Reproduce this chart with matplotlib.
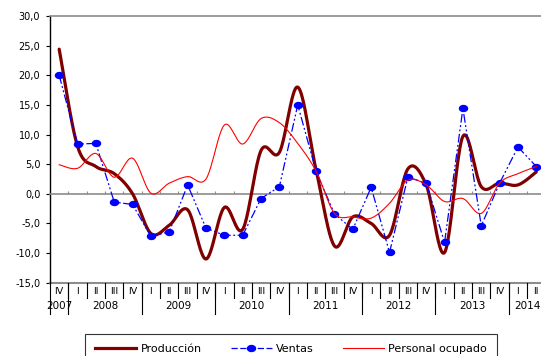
import numpy as np
import matplotlib
matplotlib.use("Agg")
import matplotlib.pyplot as plt
from matplotlib.path import Path

plt.rcParams['font.family'] = ['DejaVu Sans']

# Quarterly year-on-year changes, IV-2007 .. II-2014
quarters = ['IV'] + ['I', 'II', 'III', 'IV'] * 6 + ['I', 'II']
years = ['2007', '2008', '2009', '2010', '2011', '2012', '2013', '2014']
year_spans = [1, 4, 4, 4, 4, 4, 4, 2]

produccion = [24.4, 8.0, 4.6, 3.4, 0.0, -6.7, -5.3, -2.7, -11.0, -2.3, -6.0, 7.3, 7.0,
              18.0, 4.0, -8.8, -3.9, -5.0, -7.0, 4.2, 1.5, -9.9, 9.7, 1.2, 1.8, 1.5, 3.7]
ventas = [20.0, 8.4, 8.5, -1.4, -1.8, -7.2, -6.4, 1.5, -5.8, -7.0, -7.0, -0.8, 1.2,
          15.0, 3.8, -3.4, -6.0, 1.1, -9.9, 2.8, 1.8, -8.2, 14.4, -5.4, 1.8, 7.9, 4.6]
personal = [4.9, 4.3, 6.8, 2.8, 6.0, 0.1, 1.8, 2.9, 2.5, 11.6, 8.4, 12.7, 12.0,
            8.5, 3.8, -3.3, -3.9, -4.1, -1.6, 2.3, 1.5, -1.3, -0.8, -3.3, 1.8, 3.4, 4.6]


def smooth(x, y, n=24):
    """Bezier smoothing through every point (Catmull-Rom style control points)."""
    pts = np.column_stack([x, y]).astype(float)
    ext = np.vstack([pts[0], pts, pts[-1]])
    t = np.linspace(0, 1, n)[:, None]
    out = []
    for i in range(len(pts) - 1):
        p0, p1, p2, p3 = ext[i], ext[i + 1], ext[i + 2], ext[i + 3]
        c1 = p1 + (p2 - p0) / 6
        c2 = p2 - (p3 - p1) / 6
        seg = (1 - t) ** 3 * p1 + 3 * (1 - t) ** 2 * t * c1 + 3 * (1 - t) * t ** 2 * c2 + t ** 3 * p2
        out.append(seg if i == 0 else seg[1:])
    s = np.vstack(out)
    return s[:, 0], s[:, 1]


# slightly flattened dot marker
ang = np.linspace(0, 2 * np.pi, 40)
oval = Path(np.column_stack([1.35 * np.cos(ang), np.sin(ang)]), closed=True)

x = np.arange(len(quarters)) + 0.5

fig = plt.figure(figsize=(5.41, 3.56), dpi=100)
ax = fig.add_axes([50 / 541, 1 - 282.7 / 356, 495.5 / 541, 266.7 / 356])

gray = '#8c8c8c'
maroon = '#800000'
blue = '#0000ff'

sx, sy = smooth(x, produccion)
ax.plot(sx, sy, color=maroon, lw=2.3, solid_capstyle='round', zorder=3)
ax.plot(x, ventas, color=blue, lw=0.9, ls=(0, (7, 2, 1.5, 2, 1.5, 2)),
        marker=oval, ms=5.8, mec=blue, mfc=blue, zorder=4)
sx, sy = smooth(x, personal)
ax.plot(sx, sy, color='#ff0000', lw=0.8, zorder=5)

ax.set_xlim(0, len(quarters))
ax.set_ylim(-15, 30)

# y axis
ax.set_yticks(np.arange(-15, 31, 5))
ax.set_yticklabels([f'{v:.1f}'.replace('.', ',') for v in np.arange(-15, 31, 5)])
ax.tick_params(axis='y', direction='out', length=3, width=0.8, labelsize=7, pad=4)

# zero line carries the category ticks
ax.spines['bottom'].set_position(('data', 0))
ax.spines['bottom'].set_color(gray)
ax.spines['bottom'].set_linewidth(1.2)
ax.set_xticks(np.arange(1, len(quarters)))
ax.tick_params(axis='x', direction='in', length=2.5, width=0.8, color=gray,
               labelbottom=False)
ax.spines['top'].set_color(gray)
ax.spines['top'].set_linewidth(1.2)
ax.spines['right'].set_visible(False)
ax.spines['left'].set_color('black')
ax.spines['left'].set_linewidth(1.0)
ax.axhline(-15, color=gray, lw=1.5, clip_on=False, zorder=2)

# category table under the plot
q_bottom, y_bottom = -17.5, -20.2
for i, q in enumerate(quarters):
    ax.text(x[i], -16.55, q, ha='center', va='center', fontsize=6.8, clip_on=False)
year_edges = np.concatenate([[0], np.cumsum(year_spans)])
for b in range(1, len(quarters)):
    ax.plot([b, b], [-15, q_bottom], color='black', lw=0.8, clip_on=False)
for b in year_edges[:-1]:
    ax.plot([b, b], [-15, y_bottom], color='black', lw=0.8, clip_on=False)
for yr, a, b in zip(years, year_edges[:-1], year_edges[1:]):
    ax.text((a + b) / 2, -19.0, yr, ha='center', va='center', fontsize=7.5, clip_on=False)

# legend
h1 = plt.Line2D([], [], color=maroon, lw=2.3)
h2 = plt.Line2D([], [], color=blue, lw=0.9, ls=(0, (5, 2)), marker=oval, ms=5.8)
h3 = plt.Line2D([], [], color='#ff0000', lw=0.8)
leg = fig.legend([h1, h2, h3], ['Producción', 'Ventas', 'Personal ocupado'],
                 loc='upper center', bbox_to_anchor=(0.538, 1 - 334 / 356), ncol=3,
                 fontsize=8, frameon=True, fancybox=False, edgecolor='black',
                 handlelength=3.7, handletextpad=0.4, columnspacing=2.6,
                 borderpad=0.9, borderaxespad=0)
leg.get_frame().set_linewidth(0.8)

fig.savefig('out.png', dpi=100)
